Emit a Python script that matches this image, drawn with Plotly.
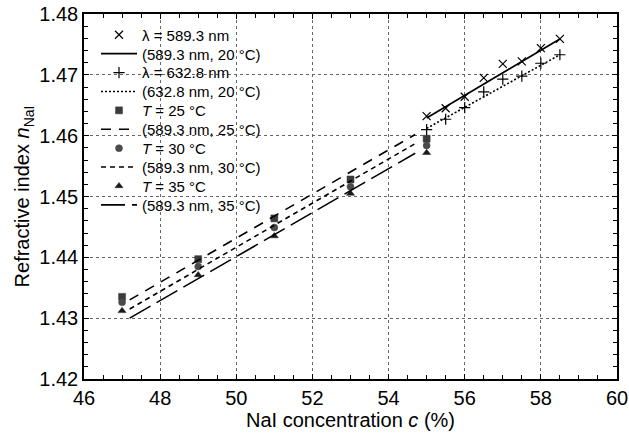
import plotly.graph_objects as go

# measured data
c_lambda = [55, 55.5, 56, 56.5, 57, 57.5, 58, 58.5]
n_589 = [1.4632, 1.4645, 1.4664, 1.4695, 1.4718, 1.4722, 1.4744, 1.4759]
n_632 = [1.4610, 1.4627, 1.4646, 1.4672, 1.4693, 1.4698, 1.4719, 1.4733]

c_T = [47, 49, 51, 53, 55]
n_25 = [1.4335, 1.4397, 1.4464, 1.4528, 1.4595]
n_30 = [1.4326, 1.4385, 1.4449, 1.4516, 1.4584]
n_35 = [1.4312, 1.4371, 1.4435, 1.4505, 1.4572]

# model lines
c_fit20 = [55, 58.5]
fit_589_20 = [1.4629, 1.4759]
fit_632_20 = [1.4612, 1.4733]
c_fitT = [47.2, 54.7]
fit_25 = [1.4330, 1.4602]
fit_30 = [1.4315, 1.4587]
fit_35 = [1.4300, 1.4571]

FONT = "Liberation Sans, Arial, Helvetica, sans-serif"
W, H = 629, 436
ML, MR, MT, MB = 84, 12, 14, 57
PH = H - MT - MB

fig = go.Figure()
legend_names = []

def next_legend():
    k = len(legend_names) + 1
    name = "legend" if k == 1 else f"legend{k}"
    legend_names.append(name)
    return name

def mk(x, y, name, symbol, size, color, lw=1.2):
    fig.add_trace(go.Scatter(x=x, y=y, mode="markers", name=name, legend=next_legend(),
                             marker=dict(symbol=symbol, size=size, color=color,
                                         line=dict(width=lw, color=color))))

def ln(x, y, name, dash):
    fig.add_trace(go.Scatter(x=x, y=y, mode="lines", name=name, legend=next_legend(),
                             line=dict(color="black", width=1.6, dash=dash)))

mk(c_lambda, n_589, "λ = 589.3 nm", "x-thin-open", 8, "black")
ln(c_fit20, fit_589_20, "(589.3 nm, 20 °C)", "solid")
mk(c_lambda, n_632, "λ = 632.8 nm", "cross-thin-open", 8, "black")
ln(c_fit20, fit_632_20, "(632.8 nm, 20 °C)", "2px,2px")
mk(c_T, n_25, "<i>T</i> = 25 °C", "square", 7, "#3a3a3a", 0.5)
ln(c_fitT, fit_25, "(589.3 nm, 25 °C)", "10px,8px")
mk(c_T, n_30, "<i>T</i> = 30 °C", "circle", 7, "#4a4a4a", 0.5)
ln(c_fitT, fit_30, "(589.3 nm, 30 °C)", "5px,4px")
mk(c_T, n_35, "<i>T</i> = 35 °C", "triangle-up", 7, "#1a1a1a", 0.5)
ln(c_fitT, fit_35, "(589.3 nm, 35 °C)", "24px,7px")

axis_common = dict(
    showline=True, linecolor="black", linewidth=1.5, mirror="ticks",
    ticks="inside", ticklen=5, tickcolor="black", tickwidth=1,
    showgrid=True, gridcolor="#666666", gridwidth=1, griddash="dot",
    zeroline=False, automargin=False,
    tickfont=dict(size=20, color="black", family=FONT),
)

fig.update_xaxes(range=[46, 60], dtick=2, tick0=46,
                 minor=dict(dtick=0.5, ticks="inside", ticklen=4, tickcolor="black", showgrid=False),
                 title=dict(text="NaI concentration <i>c</i> (%)", font=dict(size=20, family=FONT, color="black"), standoff=2),
                 **axis_common)
fig.update_yaxes(range=[1.42, 1.48], dtick=0.01, tick0=1.42, tickformat=".2f",
                 minor=dict(dtick=0.002, ticks="inside", ticklen=4, tickcolor="black", showgrid=False),
                 title=dict(text="Refractive index <i>n</i><sub>NaI</sub>", font=dict(size=20, family=FONT, color="black"), standoff=4),
                 **axis_common)

layout_legends = {}
row0, step = 35.0, 18.9
for i, name in enumerate(legend_names):
    ypx = row0 + i * step
    layout_legends[name] = dict(
        x=(96 - ML) / (W - ML - MR), y=1 - (ypx - MT) / PH,
        xanchor="left", yanchor="middle",
        bgcolor="rgba(0,0,0,0)", borderwidth=0,
        font=dict(size=15, family=FONT, color="black"),
        itemwidth=36,
    )

fig.update_layout(
    width=W, height=H,
    margin=dict(l=ML, r=MR, t=MT, b=MB),
    paper_bgcolor="white", plot_bgcolor="white",
    font=dict(family=FONT, color="black"),
    showlegend=True,
    **layout_legends,
)

fig.write_html("out.html",
               config={"displayModeBar": False},
               post_script="document.body.style.margin='0';document.body.style.overflow='hidden';")
